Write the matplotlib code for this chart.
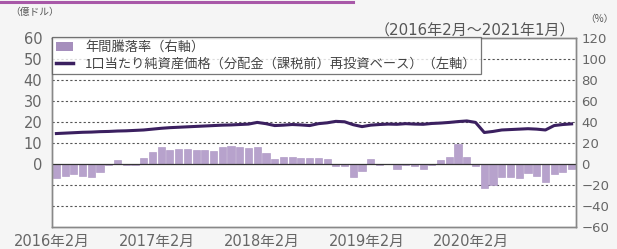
import matplotlib
matplotlib.use("Agg")
import matplotlib.pyplot as plt
import numpy as np
from matplotlib.lines import Line2D
from matplotlib.patches import Patch

plt.rcParams['font.family'] = ['DejaVu Sans', 'Noto Sans CJK JP']

# Monthly data Feb 2016 - Jan 2021
annual_return = [
    -13, -11, -10, -11, -12, -8, -1, 4, -1, -1, 6, 11,   # Feb16-Jan17
    16, 13, 14, 14, 13, 13, 12, 16, 17, 16, 15, 16,      # Feb17-Jan18
    10, 5, 7, 7, 6, 6, 6, 5, -2, -2, -12, -7,            # Feb18-Jan19
    5, -1, 0, -5, -1, -2, -5, -1, 4, 7, 19, 7,           # Feb19-Jan20
    -2, -23, -20, -12, -12, -13, -9, -11, -17, -10, -8, -5  # Feb20-Jan21
]
nav = [
    14.5, 14.7, 14.9, 15.1, 15.2, 15.4, 15.5, 15.7, 15.8, 16.0, 16.2, 16.6,
    17.0, 17.3, 17.5, 17.7, 17.9, 18.1, 18.3, 18.5, 18.6, 18.8, 19.0, 19.8,
    19.2, 18.3, 18.5, 18.8, 18.6, 18.3, 19.2, 19.6, 20.3, 20.1, 18.7, 17.8,
    18.5, 18.8, 19.0, 18.9, 19.2, 19.0, 18.9, 19.3, 19.5, 19.8, 20.2, 20.5,
    19.8, 15.0, 15.5, 16.2, 16.4, 16.6, 16.8, 16.6, 16.2, 18.3, 18.8, 19.1
]
xtick_labels = ['2016年2月', '2017年2月', '2018年2月', '2019年2月', '2020年2月']
xtick_pos = [0, 12, 24, 36, 48]

bar_color = '#b7a2cc'
line_color = '#3b2060'
tick_color = '#666666'
grid_color = '#555555'

fig = plt.figure(figsize=(6.17, 2.49), dpi=100)
fig.patch.set_facecolor('#f5f5f5')
ax = fig.add_axes([0.0843, 0.0884, 0.8492, 0.759])
ax2 = ax.twinx()

ax.set_zorder(ax2.get_zorder() + 1)
ax.patch.set_visible(False)
ax2.patch.set_facecolor('white')
ax2.patch.set_visible(True)

x = np.arange(len(annual_return))
ax2.bar(x + 0.5, annual_return, width=0.82, color=bar_color, edgecolor='#a890c0', linewidth=0.4, zorder=2)
ax2.set_ylim(-60, 120)
ax2.set_yticks(range(-60, 121, 20))
ax2.set_yticklabels([str(v).replace('-', '−') for v in range(-60, 121, 20)])
for g in [100, 80, 60, 40, 20, -20, -40]:
    ax2.axhline(g, color=grid_color, linestyle=(0, (2, 2)), linewidth=0.8, zorder=1)
ax2.axhline(0, color='#333333', linewidth=0.9, zorder=3)

ax.plot(x + 0.5, nav, color=line_color, linewidth=2.2, zorder=4)
ax.set_ylim(-30, 60)
ax.set_yticks(range(0, 61, 10))
ax.set_xlim(0, 60)
ax.set_xticks(xtick_pos)
ax.set_xticklabels(xtick_labels)

ax.tick_params(length=0, colors=tick_color, labelsize=10.5)
ax2.tick_params(length=0, colors=tick_color, labelsize=9.5)
for a in (ax, ax2):
    for s in a.spines.values():
        s.set_color('#888888')
        s.set_linewidth(1.0)
ax.tick_params(axis='y', pad=7)
ax2.tick_params(axis='y', pad=4)
ax.tick_params(axis='x', pad=5)

handles = [Patch(facecolor='#a68fbd', edgecolor='none'),
           Line2D([0], [0], color=line_color, linewidth=2.5)]
labels = ['年間騰落率（右軸）', '1口当たり純資産価格（分配金（課税前）再投資ベース）（左軸）']
leg = ax.legend(handles, labels, loc='upper left', bbox_to_anchor=(0, 1.005),
                prop={'family': ['Noto Sans CJK JP'], 'size': 9.5},
                frameon=True, fancybox=False, borderpad=0.3, labelspacing=0.25,
                handlelength=1.3, handletextpad=0.9, borderaxespad=0)
leg.get_frame().set_edgecolor('#555555')
leg.get_frame().set_linewidth(0.9)
for t in leg.get_texts():
    t.set_color('#444444')
leg.set_zorder(10)

fig.text(0.016, 0.95, '（億ドル）', fontsize=7, color='#555555', va='center', ha='left',
         family=['Noto Sans CJK JP'])
fig.text(0.932, 0.875, '（2016年2月～2021年1月）', fontsize=10.8, color='#555555', va='center', ha='right')
fig.text(0.948, 0.925, '（%）', fontsize=7, color='#555555', va='center', ha='left',
         family=['Noto Sans CJK JP', 'DejaVu Sans'])

# decorative title box edge at top
fig.add_artist(Line2D([0, 0.572], [0.992, 0.992], transform=fig.transFigure,
                      color='#a858a8', linewidth=2.2))

fig.savefig('out.png', dpi=100, facecolor=fig.get_facecolor())
